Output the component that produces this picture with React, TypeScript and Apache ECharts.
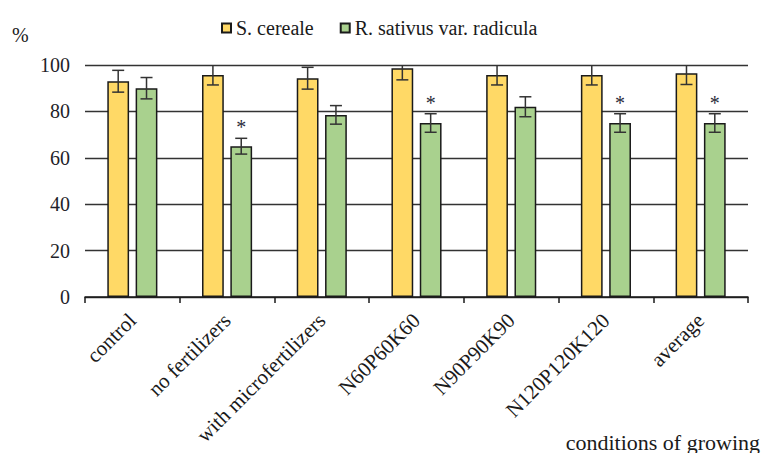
import React, { useEffect, useRef } from "react";
import * as echarts from "echarts";

const categories = [
  "control",
  "no fertilizers",
  "with microfertilizers",
  "N60P60K60",
  "N90P90K90",
  "N120P120K120",
  "average",
];
const cerealeValues = [93, 95.7, 94.3, 98.6, 95.7, 95.7, 96.4];
const cerealeErrors = [4.7, 4.3, 4.7, 5, 4.3, 4.3, 4.8];
const sativusValues = [90, 65, 78.5, 75, 82, 75, 75];
const sativusErrors = [4.6, 3.4, 4, 4, 4.3, 4, 4];
const sativusStars = [0, 1, 0, 1, 0, 1, 1];
const cerealeStars = [0, 0, 0, 0, 0, 0, 0];
const yTicks = { min: 0, max: 100, interval: 20 };

const FONT = "'Liberation Serif', 'Times New Roman', serif";
const BAR_W = 0.23;
const BAR_GAP = 0.3;

function makeErrorRenderer(sign: number) {
  return (params: any, api: any) => {
    const idx = api.value(0);
    const val = api.value(1);
    const err = api.value(2);
    const star = api.value(3);
    const band = api.size([1, 0])[0];
    const off = sign * ((1 + BAR_GAP) / 2) * BAR_W * band;
    const top = api.coord([idx, val + err]);
    const bot = api.coord([idx, val - err]);
    const x = top[0] + off;
    const cap = 6;
    const st = { stroke: "#333", lineWidth: 1.5 };
    const children: any[] = [
      { type: "line", shape: { x1: x, y1: top[1], x2: x, y2: bot[1] }, style: st },
      { type: "line", shape: { x1: x - cap, y1: top[1], x2: x + cap, y2: top[1] }, style: st },
      { type: "line", shape: { x1: x - cap, y1: bot[1], x2: x + cap, y2: bot[1] }, style: st },
    ];
    if (star) {
      children.push({
        type: "text",
        style: {
          text: "*",
          x: x,
          y: top[1] - 11,
          align: "center",
          verticalAlign: "middle",
          fontFamily: FONT,
          fontSize: 20,
          fill: "#2a2a3a",
        },
      });
    }
    return { type: "group", children };
  };
}

export default function App() {
  const ref = useRef<HTMLDivElement>(null);
  useEffect(() => {
    document.body.style.margin = "0";
    if (!ref.current) return;
    const chart = echarts.init(ref.current, null, { renderer: "svg" });
    const errData = (vals: number[], errs: number[], stars: number[]) =>
      vals.map((v, i) => [i, v, errs[i], stars[i]]);
    chart.setOption({
      animation: false,
      textStyle: { fontFamily: FONT },
      grid: { left: 85, right: 13, top: 65, bottom: 156, containLabel: false },
      legend: {
        data: [
          { name: "S. cereale", icon: "rect" },
          { name: "R. sativus var. radicula", icon: "rect" },
        ],
        left: 216,
        top: 13,
        itemWidth: 9,
        itemHeight: 9,
        itemGap: 26,
        textStyle: { fontFamily: FONT, fontSize: 20, color: "#1a1a1a" },
      },
      graphic: [
        {
          type: "text",
          left: 12,
          top: 25,
          style: { text: "%", fontFamily: FONT, fontSize: 20, fill: "#1a1a1a" },
        },
        {
          type: "text",
          right: 1,
          top: 431,
          style: { text: "conditions of growing", fontFamily: FONT, fontSize: 22, fill: "#1a1a1a" },
        },
      ],
      xAxis: {
        type: "category",
        data: categories,
        axisLine: { lineStyle: { color: "#1a1a1a", width: 1.5 } },
        axisTick: { show: true, length: 6, lineStyle: { color: "#1a1a1a", width: 1.5 } },
        axisLabel: {
          rotate: 45,
          margin: 20,
          interval: 0,
          fontFamily: FONT,
          fontSize: 21,
          color: "#1a1a1a",
        },
      },
      yAxis: {
        type: "value",
        min: yTicks.min,
        max: yTicks.max,
        interval: yTicks.interval,
        axisLine: { show: false },
        axisTick: { show: false },
        axisLabel: { margin: 15, fontFamily: FONT, fontSize: 20, color: "#1f1f2a" },
        splitLine: { lineStyle: { color: "#333", width: 1.3 } },
      },
      series: [
        {
          name: "S. cereale",
          type: "bar",
          data: cerealeValues,
          barWidth: `${BAR_W * 100}%`,
          barGap: `${BAR_GAP * 100}%`,
          itemStyle: { color: "#FFD966", borderColor: "#1a1a1a", borderWidth: 1.5 },
        },
        {
          name: "R. sativus var. radicula",
          type: "bar",
          data: sativusValues,
          barWidth: `${BAR_W * 100}%`,
          barGap: `${BAR_GAP * 100}%`,
          itemStyle: { color: "#A9D18E", borderColor: "#1a1a1a", borderWidth: 1.5 },
        },
        {
          type: "custom",
          name: "errS",
          renderItem: makeErrorRenderer(-1),
          data: errData(cerealeValues, cerealeErrors, cerealeStars),
          clip: true,
          z: 5,
          encode: { x: 0, y: 1 },
        },
        {
          type: "custom",
          name: "errR",
          renderItem: makeErrorRenderer(1),
          data: errData(sativusValues, sativusErrors, sativusStars),
          clip: true,
          z: 5,
          encode: { x: 0, y: 1 },
        },
      ],
    });
    return () => chart.dispose();
  }, []);
  return <div ref={ref} style={{ width: 761, height: 453 }} />;
}
